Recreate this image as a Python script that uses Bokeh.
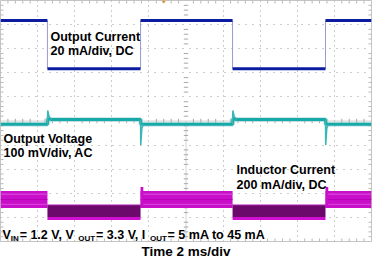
from bokeh.plotting import figure
from bokeh.models import Range1d, Label, FixedTicker, Title
from bokeh.embed import file_html
from bokeh.resources import INLINE

# ---------------- data ----------------
ms_per_div = 2.0
n_div_x = 10
n_div_y = 10
load_step_ms = [2.53, 7.55, 12.51, 17.52]      # load down, up, down, up
screen_ms = 20.0
trigger_ms = 8.8

# Output current (20 mA/div, DC)
iout_levels_mA = [45, 5]                         # heavy, light
iout_mA_per_div = 20
iout_zero_div = 1.92

# Output voltage (100 mV/div, AC)
vout_t_ms = [0.0, 2.53, 2.56, 2.75, 7.55, 7.57, 12.51, 12.54, 12.73, 17.52, 17.54, 20.0]
vout_ac_mV = [-14, -14, 10, 6, 6, -14, -14, 10, 6, 6, -14, -14]
spike_t_ms = [[2.53, 2.545, 2.62, 2.75], [7.55, 7.56, 7.62, 7.70],
              [12.51, 12.525, 12.60, 12.73], [17.52, 17.53, 17.59, 17.67]]
spike_mV = [[-14, 44, 18, 7], [6, -100, -30, -14],
            [-14, 44, 18, 7], [6, -100, -30, -14]]
vout_mV_per_div = 100
vout_zero_div = 0.0

# Inductor current (200 mA/div, DC)
il_mA_per_div = 200
il_zero_div = -4.11
il_heavy_band_mA = [100, 242]
il_light_band_mA = [0, 125]
il_light_floor_mA = 25
il_overshoot_mA = 274

# ---------------- helpers ----------------
def xd(t):
    return -n_div_x / 2 + t / ms_per_div

PX_X = 371 / n_div_x
PX_Y = 241 / n_div_y

def px2x(px):
    return -n_div_x / 2 + px / PX_X

def px2y(py):
    return n_div_y / 2 - py / PX_Y

p = figure(width=372, height=260, output_backend="svg", toolbar_location=None,
           x_range=Range1d(-5, 5), y_range=Range1d(-5, 5),
           x_axis_location=None, y_axis_location=None,
           min_border_left=0, min_border_right=1, min_border_top=0, min_border_bottom=19)
p.background_fill_color = "white"
p.border_fill_color = "white"
p.outline_line_color = "#c4c4c4"

ticks = [-4, -3, -2, -1, 1, 2, 3, 4]
p.xgrid.ticker = FixedTicker(ticks=ticks)
p.ygrid.ticker = FixedTicker(ticks=ticks)
p.xgrid.grid_line_color = "#9a9a9a"
p.ygrid.grid_line_color = "#9a9a9a"
p.xgrid.grid_line_dash = "1 4"
p.ygrid.grid_line_dash = "1 6"

# centre cross + minor ticks
p.segment(x0=[0, -5], y0=[-5, 0], x1=[0, 5], y1=[0, 0], line_color="#a8a8a8",
          line_width=1, line_dash="1 1")
minor = [i * 0.2 - 5 for i in range(1, 50) if i % 5 != 0]
tx = 2.2 / PX_X
ty = 2.2 / PX_Y
p.segment(x0=[-tx] * len(minor), x1=[tx] * len(minor), y0=minor, y1=minor,
          line_color="#a8a8a8", line_width=1)
p.segment(x0=minor, x1=minor, y0=[-ty] * len(minor), y1=[ty] * len(minor),
          line_color="#a8a8a8", line_width=1)
# border ticks
bx = 3 / PX_X
by = 3 / PX_Y
p.segment(x0=[-5] * len(minor), x1=[-5 + bx] * len(minor), y0=minor, y1=minor, line_color="#b8b8b8")
p.segment(x0=[5] * len(minor), x1=[5 - bx] * len(minor), y0=minor, y1=minor, line_color="#b8b8b8")
p.segment(x0=minor, x1=minor, y0=[-5] * len(minor), y1=[-5 + by] * len(minor), line_color="#b8b8b8")
p.segment(x0=minor, x1=minor, y0=[5] * len(minor), y1=[5 - by] * len(minor), line_color="#b8b8b8")

# trigger marker
p.quad(left=[xd(trigger_ms) - 1.5 / PX_X], right=[xd(trigger_ms) + 1.5 / PX_X],
       bottom=[5 - 2 / PX_Y], top=[5], fill_color="#e08a20", line_color=None)

edges = [0.0] + load_step_ms + [screen_ms]
heavy = [(edges[i], edges[i + 1]) for i in (0, 2, 4)]
light = [(edges[i], edges[i + 1]) for i in (1, 3)]

# ---------------- inductor current ----------------
def yil(i):
    return il_zero_div + i / il_mA_per_div

p.quad(left=[xd(a) for a, b in heavy], right=[xd(b) for a, b in heavy],
       bottom=yil(il_heavy_band_mA[0]), top=yil(il_heavy_band_mA[1]),
       fill_color="#c90fc9", line_color=None)
for lvl, col in ((130, "#d84ad8"), (170, "#b800b8"), (215, "#dc55dc")):
    p.segment(x0=[xd(a) for a, b in heavy], x1=[xd(b) for a, b in heavy],
              y0=yil(lvl), y1=yil(lvl), line_color=col, line_width=1)
up_steps = [load_step_ms[1], load_step_ms[3]]
p.quad(left=[xd(s) for s in up_steps], right=[xd(s + 0.15) for s in up_steps],
       bottom=yil(il_heavy_band_mA[0]), top=yil(il_overshoot_mA),
       fill_color="#c90fc9", line_color=None)
p.quad(left=[xd(a) for a, b in light], right=[xd(b) for a, b in light],
       bottom=yil(il_light_floor_mA), top=yil(il_light_band_mA[1]),
       fill_color="#6c0a6c", line_color=None)
p.quad(left=[xd(a) for a, b in light], right=[xd(b) for a, b in light],
       bottom=yil(il_light_band_mA[0]), top=yil(il_light_floor_mA),
       fill_color="#d010d0", line_color=None)
p.segment(x0=[xd(a) for a, b in light], x1=[xd(b) for a, b in light],
          y0=yil(il_light_band_mA[1]), y1=yil(il_light_band_mA[1]),
          line_color="#b020b0", line_width=1)

# ---------------- output voltage ----------------
vx = [xd(t) for t in vout_t_ms]
vy = [vout_zero_div + v / vout_mV_per_div for v in vout_ac_mV]
p.line(vx, vy, line_color="#9cd4d4", line_width=5, line_alpha=0.5)
p.line(vx, vy, line_color="#17a8a8", line_width=3)
p.multi_line([[xd(t) for t in ts] for ts in spike_t_ms],
             [[vout_zero_div + v / vout_mV_per_div for v in vs] for vs in spike_mV],
             line_color="#3ab6b6", line_width=1.5)

# ---------------- output current ----------------
def yio(i):
    return iout_zero_div + i / iout_mA_per_div

p.segment(x0=[xd(s) for s in load_step_ms], x1=[xd(s) for s in load_step_ms],
          y0=yio(iout_levels_mA[0]), y1=yio(iout_levels_mA[1]),
          line_color="#9a9ad4", line_width=1)
p.segment(x0=[xd(a) for a, b in heavy], x1=[xd(b) for a, b in heavy],
          y0=yio(iout_levels_mA[0]), y1=yio(iout_levels_mA[0]),
          line_color="#0c1ca0", line_width=3)
p.segment(x0=[xd(a) for a, b in light], x1=[xd(b) for a, b in light],
          y0=yio(iout_levels_mA[1]), y1=yio(iout_levels_mA[1]),
          line_color="#0c1ca0", line_width=3)

# ---------------- texts ----------------
FONT = "Liberation Sans"
MAIN = 12.5
SUB = 8

def lab(txt, xpx, ypx, size=MAIN, align="left"):
    p.add_layout(Label(x=px2x(xpx), y=px2y(ypx), text=txt, text_font=FONT,
                       text_font_size=f"{size}px", text_font_style="bold",
                       text_color="black", text_align=align,
                       text_baseline="alphabetic"))

lab("Output Current", 50, 36.5)
lab("20 mA/div, DC", 50, 50)
lab("Output Voltage", 3, 138.6)
lab("100 mV/div, AC", 3, 152.5)
lab("Inductor Current", 236, 169.5)
lab("200 mA/div, DC", 236, 184)

p.add_layout(Title(text="Time 2 ms/div", align="center", text_font=FONT,
                   text_font_size="13.5px", text_font_style="bold",
                   text_color="black", standoff=0, offset=0), "below")

AB = {' ': 278, '=': 584, '.': 278, ',': 278, '1': 556, '2': 556, '3': 556, '4': 556,
      '5': 556, 'V': 667, 'I': 278, 'N': 722, 'O': 778, 'U': 722, 'T': 611, 'm': 889,
      'A': 722, 't': 333, 'o': 611}

def tw(s, size):
    return sum(AB[c] for c in s) * size / 1000

pieces = [("V", False), ("IN", True), (" = 1.2 V, V", False), ("OUT", True),
          (" = 3.3 V, I", False), ("OUT", True), (" = 5 mA to 45 mA", False)]
cx = 2.0
for s, sub in pieces:
    size = SUB if sub else MAIN
    lab(s, cx, 238 if sub else 234, size=size)
    cx += tw(s, size) + (0.8 if sub else 0)

open("out.html", "w").write(file_html(p, INLINE))
